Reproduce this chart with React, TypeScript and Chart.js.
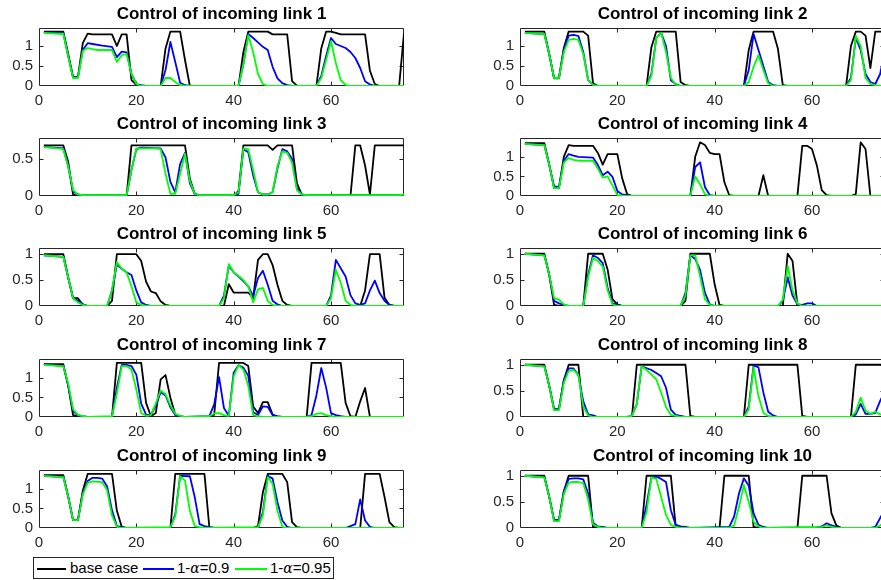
import React, { useEffect, useRef } from "react";
import { Chart, registerables } from "chart.js";

Chart.register(...registerables);

type Pt = [number, number];

// ---------------- data ----------------
const panelTitles = [
  "Control of incoming link 1",
  "Control of incoming link 2",
  "Control of incoming link 3",
  "Control of incoming link 4",
  "Control of incoming link 5",
  "Control of incoming link 6",
  "Control of incoming link 7",
  "Control of incoming link 8",
  "Control of incoming link 9",
  "Control of incoming link 10",
];
const seriesLabels = ["base case", "1-α=0.9", "1-α=0.95"];
const xTickValues = [0, 20, 40, 60];
const xLimits = [0, 75];
const yMaxes = [1.45, 1.45, 0.78, 1.48, 1.12, 1.11, 1.48, 1.11, 1.48, 1.11];
const yTicksFull = [0, 0.5, 1];
const yTicksHalf = [0, 0.5];

const link1Base: Pt[] = [[1,1.36],[5,1.36],[6,0.8],[7,0.22],[8,0.22],[9,1.07],[10,1.31],[11,1.29],[15,1.29],[16,1.0],[17,1.29],[18,1.29],[19,0.15],[20,0.02],[21,0],[25,0],[26,0.94],[27,1.36],[29,1.36],[30,0.65],[31,0],[41,0],[42,0.85],[43,1.36],[47,1.36],[48,1.29],[51,1.29],[52,0.12],[53,0.01],[54,0],[57,0],[58,0.94],[59,1.36],[60,1.36],[61,1.33],[62,1.29],[67,1.29],[68,0.38],[69,0.05],[70,0],[74,0],[75,1.32]];
const link1Conf90: Pt[] = [[1,1.34],[5,1.32],[6,0.75],[7,0.22],[8,0.22],[9,0.9],[10,1.07],[11,1.05],[13,1.01],[15,0.98],[16,0.72],[17,0.86],[18,0.84],[19,0.3],[20,0.05],[21,0.02],[22,0],[25,0],[26,0.4],[27,1.1],[28,0.6],[29,0.08],[30,0.02],[31,0],[41,0],[42,0.55],[43,1.3],[44,1.2],[45,1.09],[46,0.98],[47,0.9],[48,0.48],[49,0.19],[50,0.07],[51,0.02],[52,0],[57,0],[58,0.25],[59,0.75],[60,1.2],[61,1.05],[62,1.0],[63,0.95],[64,0.85],[65,0.7],[66,0.45],[67,0.12],[68,0.04],[69,0],[75,0]];
const link1Conf95: Pt[] = [[1,1.33],[5,1.3],[6,0.75],[7,0.2],[8,0.2],[9,0.88],[10,0.95],[11,0.92],[12,0.9],[15,0.9],[16,0.6],[17,0.77],[18,0.8],[19,0.3],[20,0.05],[21,0],[25,0],[26,0.2],[27,0.2],[28,0.1],[29,0.02],[30,0],[41,0],[42,0.55],[43,1.27],[44,0.85],[45,0.3],[46,0.05],[47,0],[57,0],[58,0.2],[59,0.65],[60,1.12],[61,0.57],[62,0.15],[63,0.03],[64,0],[75,0]];

const link2Base: Pt[] = [[1,1.36],[5,1.36],[6,0.8],[7,0.19],[8,0.19],[9,0.95],[10,1.36],[13,1.36],[14,1.26],[15,0.07],[16,0],[26,0],[27,0.97],[28,1.36],[32,1.36],[33,0.1],[34,0.02],[35,0],[46,0],[47,0.9],[48,1.36],[52,1.36],[53,0.93],[54,0.02],[55,0],[67,0],[68,1.0],[69,1.36],[70,1.36],[71,1.26],[72,0.45],[73,1.36],[75,1.36]];
const link2Conf90: Pt[] = [[1,1.33],[5,1.3],[6,0.8],[7,0.2],[8,0.2],[9,0.9],[10,1.26],[11,1.28],[12,1.25],[13,0.85],[14,0.15],[15,0.03],[16,0],[26,0],[27,0.3],[28,1.2],[29,1.33],[30,1.0],[31,0.14],[32,0.05],[33,0],[46,0],[47,0.4],[48,1.3],[49,0.9],[50,0.5],[51,0.1],[52,0.02],[53,0],[67,0],[68,0.2],[69,1.2],[70,0.9],[71,0.3],[72,0.1],[73,0.05],[74,0.3],[75,0.9]];
const link2Conf95: Pt[] = [[1,1.33],[5,1.3],[6,0.8],[7,0.2],[8,0.2],[9,0.85],[10,1.15],[11,1.18],[12,1.15],[13,0.8],[14,0.15],[15,0.03],[16,0],[26,0],[27,0.25],[28,1.2],[29,1.33],[30,0.85],[31,0.2],[32,0.03],[33,0],[46,0],[47,0.1],[48,0.48],[49,0.77],[50,0.4],[51,0.07],[52,0],[67,0],[68,0.15],[69,1.25],[70,1.0],[71,0.2],[72,0.05],[73,0.02],[74,0],[75,0]];

const link3Base: Pt[] = [[1,0.68],[5,0.68],[6,0.46],[7,0.02],[8,0],[18,0],[19,0.68],[30,0.68],[31,0.23],[32,0.03],[33,0],[40,0],[41,0.07],[42,0.68],[47,0.68],[48,0.62],[49,0.68],[52,0.68],[53,0.17],[54,0.02],[55,0],[64,0],[65,0.68],[66,0.68],[67,0.41],[68,0.02],[69,0.68],[75,0.68]];
const link3Conf90: Pt[] = [[1,0.66],[5,0.64],[6,0.4],[7,0.06],[8,0.02],[9,0.01],[18,0.01],[19,0.35],[20,0.63],[21,0.65],[25,0.64],[26,0.52],[27,0.19],[28,0.05],[29,0.43],[30,0.58],[31,0.17],[32,0.03],[33,0.01],[40,0.01],[41,0.03],[42,0.63],[43,0.59],[44,0.28],[45,0.05],[46,0.02],[47,0.02],[48,0.05],[49,0.37],[50,0.63],[51,0.6],[52,0.5],[53,0.1],[54,0.02],[55,0.01],[75,0.01]];
const link3Conf95: Pt[] = [[1,0.66],[5,0.63],[6,0.4],[7,0.08],[8,0.02],[9,0.01],[18,0.01],[19,0.35],[20,0.64],[24,0.64],[25,0.63],[26,0.3],[27,0.03],[28,0.03],[29,0.3],[30,0.57],[31,0.2],[32,0.03],[33,0.01],[40,0.01],[41,0.05],[42,0.64],[43,0.63],[44,0.35],[45,0.05],[46,0.02],[47,0.02],[48,0.05],[49,0.4],[50,0.6],[51,0.58],[52,0.45],[53,0.08],[54,0.02],[55,0.01],[74,0.01],[75,0.02]];

const link4Base: Pt[] = [[1,1.35],[5,1.35],[6,0.8],[7,0.2],[8,0.2],[9,1.0],[10,1.3],[11,1.28],[15,1.28],[16,1.1],[17,0.8],[18,1.07],[20,1.07],[21,0.45],[22,0.05],[23,0],[35,0],[36,1.0],[37,1.37],[38,1.3],[39,1.1],[40,1.07],[41,1.07],[42,0.35],[43,0.02],[44,0],[49,0],[50,0.53],[51,0],[57,0],[58,1.28],[59,1.28],[60,1.2],[61,0.78],[62,0.15],[63,0.02],[64,0],[68,0],[69,0.05],[70,1.37],[71,1.2],[72,0],[75,0]];
const link4Conf90: Pt[] = [[1,1.33],[5,1.3],[6,0.8],[7,0.25],[8,0.22],[9,0.9],[10,1.07],[11,1.03],[12,1.0],[15,0.98],[16,0.79],[17,0.53],[18,0.62],[19,0.49],[20,0.13],[21,0.04],[22,0.02],[23,0],[35,0],[36,0.74],[37,0.86],[38,0.23],[39,0.02],[40,0],[75,0]];
const link4Conf95: Pt[] = [[1,1.33],[5,1.3],[6,0.8],[7,0.2],[8,0.2],[9,0.85],[10,0.97],[11,0.92],[12,0.9],[15,0.9],[16,0.7],[17,0.47],[18,0.5],[19,0.27],[20,0.03],[21,0.01],[22,0],[35,0],[36,0.5],[37,0.3],[38,0.05],[39,0],[75,0]];

const link5Base: Pt[] = [[1,1.0],[5,1.0],[6,0.55],[7,0.15],[8,0.15],[9,0.03],[10,0],[14,0],[15,0.1],[16,1.0],[20,1.0],[21,0.87],[22,0.47],[23,0.28],[24,0.25],[25,0.09],[26,0.02],[27,0],[38,0],[39,0.42],[40,0.26],[43,0.26],[44,0.15],[45,0.89],[46,1.0],[47,1.0],[48,0.79],[49,0.41],[50,0.1],[51,0.02],[52,0],[66,0],[67,0.3],[68,1.0],[70,1.0],[71,0.16],[72,0.02],[73,0],[75,0]];
const link5Conf90: Pt[] = [[1,0.98],[5,0.95],[6,0.55],[7,0.15],[8,0.1],[9,0.03],[10,0],[14,0],[15,0.3],[16,0.8],[17,0.72],[18,0.65],[19,0.6],[20,0.3],[21,0.07],[22,0.02],[23,0],[37,0],[38,0.2],[39,0.78],[40,0.65],[41,0.57],[42,0.48],[43,0.38],[44,0.19],[45,0.54],[46,0.68],[47,0.41],[48,0.1],[49,0.03],[50,0],[59,0],[60,0.2],[61,0.89],[62,0.73],[63,0.57],[64,0.21],[65,0.05],[66,0.02],[67,0.05],[68,0.3],[69,0.49],[70,0.25],[71,0.1],[72,0.02],[73,0],[75,0]];
const link5Conf95: Pt[] = [[1,0.98],[5,0.95],[6,0.55],[7,0.15],[8,0.07],[9,0.02],[10,0],[14,0],[15,0.3],[16,0.85],[17,0.72],[18,0.65],[19,0.38],[20,0.07],[21,0.02],[22,0],[37,0],[38,0.15],[39,0.81],[40,0.65],[41,0.58],[42,0.5],[43,0.38],[44,0.07],[45,0.32],[46,0.35],[47,0.1],[48,0.02],[49,0],[59,0],[60,0.15],[61,0.7],[62,0.45],[63,0.1],[64,0.02],[65,0],[75,0]];

const link6Base: Pt[] = [[1,1.0],[5,1.0],[6,0.6],[7,0.02],[8,0],[13,0],[14,1.0],[17,1.0],[18,0.7],[19,0.13],[20,0.03],[21,0],[33,0],[34,0.1],[35,1.0],[39,1.0],[40,0.41],[41,0.02],[42,0],[54,0],[55,1.0],[56,0.86],[57,0.02],[58,0],[75,0]];
const link6Conf90: Pt[] = [[1,1.0],[5,0.97],[6,0.6],[7,0.1],[8,0.05],[9,0.02],[10,0],[13,0],[14,0.6],[15,0.97],[16,0.92],[17,0.82],[18,0.35],[19,0.05],[20,0.02],[21,0],[33,0],[34,0.25],[35,0.97],[36,0.9],[37,0.69],[38,0.25],[39,0.03],[40,0],[53,0],[54,0.1],[55,0.55],[56,0.2],[57,0.03],[58,0.02],[59,0.05],[60,0.05],[61,0],[75,0]];
const link6Conf95: Pt[] = [[1,1.0],[5,0.97],[6,0.6],[7,0.15],[8,0.12],[9,0.03],[10,0],[13,0],[14,0.55],[15,0.92],[16,0.86],[17,0.76],[18,0.3],[19,0.03],[20,0],[33,0],[34,0.2],[35,0.97],[36,0.97],[37,0.57],[38,0.13],[39,0.02],[40,0],[53,0],[54,0.12],[55,0.77],[56,0.3],[57,0.05],[58,0],[75,0]];

const link7Base: Pt[] = [[1,1.35],[5,1.35],[6,0.8],[7,0.05],[8,0.02],[9,0],[15,0],[16,1.38],[21,1.38],[22,0.36],[23,0.02],[24,0.1],[25,0.96],[26,1.07],[27,0.49],[28,0.06],[29,0],[35,0],[36,0.06],[37,1.38],[42,1.38],[43,1.3],[44,0.27],[45,0.1],[46,0.38],[47,0.38],[48,0.06],[49,0],[55,0],[56,1.38],[62,1.38],[63,0.36],[64,0.02],[65,0],[66,0.4],[67,0.74],[68,0],[75,0]];
const link7Conf90: Pt[] = [[1,1.35],[5,1.3],[6,0.8],[7,0.15],[8,0.05],[9,0.02],[10,0],[15,0],[16,0.75],[17,1.33],[18,1.33],[19,1.3],[20,1.08],[21,0.34],[22,0.06],[23,0.05],[24,0.3],[25,0.63],[26,0.55],[27,0.25],[28,0.05],[29,0.02],[30,0],[35,0.02],[36,0.32],[37,1.02],[38,0.23],[39,0.03],[40,1.13],[41,1.32],[42,1.26],[43,1.05],[44,0.12],[45,0.05],[46,0.27],[47,0.26],[48,0.05],[49,0.02],[50,0],[55,0],[56,0.05],[57,0.55],[58,1.25],[59,0.75],[60,0.1],[61,0.05],[62,0.02],[63,0],[75,0]];
const link7Conf95: Pt[] = [[1,1.33],[5,1.3],[6,0.85],[7,0.2],[8,0.05],[9,0.02],[10,0],[15,0.02],[16,0.6],[17,1.3],[18,1.3],[19,1.21],[20,0.7],[21,0.1],[22,0.03],[23,0.05],[24,0.35],[25,0.68],[26,0.58],[27,0.3],[28,0.08],[29,0.03],[30,0],[35,0.02],[36,0.09],[37,0.1],[38,0.05],[39,0.03],[40,1.04],[41,1.32],[42,1.21],[43,0.8],[44,0.05],[45,0.02],[46,0],[55,0],[56,0.02],[57,0.08],[58,0.1],[59,0.05],[60,0.02],[61,0],[75,0]];

const link8Base: Pt[] = [[1,1.0],[5,1.0],[6,0.6],[7,0.15],[8,0.15],[9,0.7],[10,1.0],[12,1.0],[13,0],[23,0],[24,1.0],[34,1.0],[35,0.02],[36,0],[46,0],[47,1.0],[57,1.0],[58,0.02],[59,0],[68,0],[69,1.0],[75,1.0]];
const link8Conf90: Pt[] = [[1,1.0],[5,0.97],[6,0.6],[7,0.15],[8,0.15],[9,0.7],[10,0.93],[11,0.93],[12,0.8],[13,0.3],[14,0.05],[15,0.03],[16,0],[22,0],[23,0.02],[24,0.25],[25,0.97],[27,0.9],[28,0.84],[29,0.78],[30,0.56],[31,0.14],[32,0.04],[33,0.02],[34,0],[46,0],[47,0.2],[48,0.99],[49,0.95],[50,0.47],[51,0.1],[52,0.03],[53,0],[68,0],[69,0.05],[70,0.25],[71,0.06],[72,0.06],[73,0.08],[74,0.31],[75,0.5]];
const link8Conf95: Pt[] = [[1,1.0],[5,0.97],[6,0.6],[7,0.13],[8,0.13],[9,0.65],[10,0.88],[11,0.9],[12,0.8],[13,0.2],[14,0.03],[15,0],[22,0],[23,0.02],[24,0.25],[25,0.97],[26,0.9],[27,0.81],[28,0.72],[29,0.47],[30,0.19],[31,0.04],[32,0.02],[33,0],[46,0],[47,0.15],[48,0.95],[49,0.4],[50,0.08],[51,0.02],[52,0],[68,0],[69,0.1],[70,0.37],[71,0.12],[72,0.06],[73,0.1],[74,0.05],[75,0.05]];

const link9Base: Pt[] = [[1,1.35],[5,1.35],[6,0.8],[7,0.2],[8,0.2],[9,0.95],[10,1.38],[15,1.38],[16,0.44],[17,0.03],[18,0],[27,0],[28,1.38],[34,1.38],[35,0.02],[36,0],[44,0],[45,0.05],[46,0.91],[47,1.38],[50,1.38],[51,1.17],[52,0.15],[53,0.02],[54,0],[66,0],[67,1.38],[70,1.38],[71,0.79],[72,0.15],[73,0.02],[74,0],[75,0]];
const link9Conf90: Pt[] = [[1,1.33],[5,1.3],[6,0.8],[7,0.2],[8,0.2],[9,0.9],[10,1.2],[11,1.28],[12,1.28],[13,1.26],[14,1.06],[15,0.45],[16,0.05],[17,0.02],[18,0],[27,0],[28,0.35],[29,1.33],[31,1.32],[32,0.79],[33,0.1],[34,0.05],[35,0.02],[36,0],[45,0],[46,0.4],[47,1.33],[48,1.26],[49,0.66],[50,0.19],[51,0.03],[52,0],[63,0],[64,0.05],[65,0.1],[66,0.73],[67,0.19],[68,0.03],[69,0],[75,0]];
const link9Conf95: Pt[] = [[1,1.33],[5,1.3],[6,0.8],[7,0.2],[8,0.2],[9,0.85],[10,1.15],[11,1.19],[12,1.18],[13,1.17],[14,0.96],[15,0.32],[16,0.03],[17,0],[27,0.02],[28,0.3],[29,1.32],[30,1.21],[31,0.44],[32,0.05],[33,0.02],[34,0],[45,0.02],[46,0.32],[47,1.3],[48,1.13],[49,0.44],[50,0.03],[51,0],[75,0]];

const link10Base: Pt[] = [[1,1.0],[5,1.0],[6,0.6],[7,0.15],[8,0.15],[9,0.7],[10,1.0],[14,1.0],[15,0.02],[16,0],[25,0],[26,1.0],[31,1.0],[32,0.02],[33,0],[41,0],[42,1.0],[47,1.0],[48,0.02],[49,0],[57,0],[58,1.0],[63,1.0],[64,0.28],[65,0.05],[66,0],[75,0]];
const link10Conf90: Pt[] = [[1,1.0],[5,0.97],[6,0.6],[7,0.15],[8,0.15],[9,0.7],[10,0.94],[11,0.95],[12,0.95],[13,0.93],[14,0.66],[15,0.1],[16,0.03],[17,0.02],[18,0],[25,0],[26,0.44],[27,0.97],[28,0.98],[29,0.94],[30,0.88],[31,0.34],[32,0.06],[33,0.03],[34,0.02],[35,0],[43,0.02],[44,0.22],[45,0.66],[46,0.95],[47,0.81],[48,0.28],[49,0.06],[50,0.02],[51,0],[61,0.01],[62,0.03],[63,0.09],[64,0.05],[65,0.02],[66,0],[72,0],[73,0.02],[74,0.19],[75,0.35]];
const link10Conf95: Pt[] = [[1,1.0],[5,0.97],[6,0.6],[7,0.13],[8,0.13],[9,0.65],[10,0.87],[11,0.88],[12,0.88],[13,0.86],[14,0.55],[15,0.07],[16,0.02],[17,0],[25,0],[26,0.3],[27,0.97],[28,0.94],[29,0.6],[30,0.25],[31,0.06],[32,0.02],[33,0],[43,0],[44,0.05],[45,0.4],[46,0.82],[47,0.5],[48,0.12],[49,0.03],[50,0],[62,0.02],[63,0.05],[64,0.02],[65,0],[73,0],[74,0.05],[75,0.1]];

const panelSeries: Pt[][][] = [
  [link1Base, link1Conf90, link1Conf95],
  [link2Base, link2Conf90, link2Conf95],
  [link3Base, link3Conf90, link3Conf95],
  [link4Base, link4Conf90, link4Conf95],
  [link5Base, link5Conf90, link5Conf95],
  [link6Base, link6Conf90, link6Conf95],
  [link7Base, link7Conf90, link7Conf95],
  [link8Base, link8Conf90, link8Conf95],
  [link9Base, link9Conf90, link9Conf95],
  [link10Base, link10Conf90, link10Conf95],
];
const panelYTicks = [yTicksFull, yTicksFull, yTicksHalf, yTicksFull, yTicksFull, yTicksFull, yTicksFull, yTicksFull, yTicksFull, yTicksFull];

// ---------------- styling / layout ----------------
const FONT = "'Liberation Sans', Arial, Helvetica, sans-serif";
const seriesColors = ["#000000", "#0000ff", "#00ff00"];
const AXIS_COLOR = "#262626";
const colLefts = [39, 520];
const rowTops = [28, 138, 248, 359, 470];
const AX_W = 365;
const AX_H = 58;
const Y_AXIS_W = 50;
const TITLE_H = 28;
const X_AXIS_H = 26;
const PAD_R = 20;
const CANVAS_W = Y_AXIS_W + AX_W + PAD_R;
const CANVAS_H = TITLE_H + AX_H + X_AXIS_H;

const framePlugin = {
  id: "matlabFrame",
  beforeDatasetsDraw(chart: any) {
    const { ctx, chartArea: a, scales } = chart;
    const L = Math.round(a.left) + 0.5;
    const R = Math.round(a.right) - 0.5;
    const T = Math.round(a.top) + 0.5;
    const B = Math.round(a.bottom) - 0.5;
    const tl = 4;
    ctx.save();
    ctx.strokeStyle = AXIS_COLOR;
    ctx.lineWidth = 1;
    ctx.beginPath();
    ctx.rect(L, T, R - L, B - T);
    for (const v of xTickValues) {
      const px = Math.round(scales.x.getPixelForValue(v)) + 0.5;
      if (px <= L + 1 || px >= R - 1) continue;
      ctx.moveTo(px, B);
      ctx.lineTo(px, B - tl);
      ctx.moveTo(px, T);
      ctx.lineTo(px, T + tl);
    }
    for (const t of scales.y.ticks) {
      const py = Math.round(scales.y.getPixelForValue(t.value)) + 0.5;
      if (py >= B - 1 || py <= T + 1) continue;
      ctx.moveTo(L, py);
      ctx.lineTo(L + tl, py);
      ctx.moveTo(R, py);
      ctx.lineTo(R - tl, py);
    }
    ctx.stroke();
    ctx.restore();
  },
};

function Panel({ idx, left, top }: { idx: number; left: number; top: number }) {
  const ref = useRef<HTMLCanvasElement>(null);
  useEffect(() => {
    const series = panelSeries[idx];
    const yTicks = panelYTicks[idx];
    const chart = new Chart(ref.current as HTMLCanvasElement, {
      type: "line",
      data: {
        datasets: series.map((s, k) => ({
          label: seriesLabels[k],
          data: s.map(([x, y]) => ({ x, y })),
          borderColor: seriesColors[k],
          backgroundColor: seriesColors[k],
          borderWidth: 1.8,
          pointRadius: 0,
          tension: 0,
          fill: false,
          borderJoinStyle: "round",
          order: 3 - k,
        })),
      },
      options: {
        responsive: false,
        animation: false,
        devicePixelRatio: 1,
        events: [],
        layout: { padding: { left: 0, right: PAD_R, top: 0, bottom: 0 } },
        plugins: {
          legend: { display: false },
          tooltip: { enabled: false },
          title: {
            display: true,
            text: panelTitles[idx],
            fullSize: false,
            color: "#000",
            font: { family: FONT, size: 17, weight: "bold", lineHeight: 1.2 },
            padding: { top: 4, bottom: 3.6 },
          },
        },
        scales: {
          x: {
            type: "linear",
            min: xLimits[0],
            max: xLimits[1],
            grid: { display: false, drawTicks: false },
            border: { display: false },
            ticks: {
              font: { family: FONT, size: 15 },
              color: AXIS_COLOR,
              padding: 6,
              maxRotation: 0,
              autoSkip: false,
              callback: (v: any) => String(v),
            },
            afterBuildTicks: (s: any) => {
              s.ticks = xTickValues.map((v) => ({ value: v }));
            },
            afterFit: (s: any) => {
              s.height = X_AXIS_H;
            },
          },
          y: {
            type: "linear",
            min: 0,
            max: yMaxes[idx],
            grid: { display: false, drawTicks: false },
            border: { display: false },
            ticks: {
              font: { family: FONT, size: 15 },
              color: AXIS_COLOR,
              padding: 6,
              autoSkip: false,
              callback: (v: any) => String(v),
            },
            afterBuildTicks: (s: any) => {
              s.ticks = yTicks.map((v) => ({ value: v }));
            },
            afterFit: (s: any) => {
              s.width = Y_AXIS_W;
            },
          },
        },
      } as any,
      plugins: [framePlugin],
    });
    return () => chart.destroy();
  }, [idx]);
  return (
    <canvas
      ref={ref}
      width={CANVAS_W}
      height={CANVAS_H}
      style={{ position: "absolute", left, top, width: CANVAS_W, height: CANVAS_H }}
    />
  );
}

function LegendLabel({ text }: { text: string }) {
  const parts = text.split("α");
  return (
    <>
      {parts.map((p, i) => (
        <React.Fragment key={i}>
          {i > 0 && <i style={{ fontFamily: "'DejaVu Serif', serif", fontSize: 14 }}>α</i>}
          {p}
        </React.Fragment>
      ))}
    </>
  );
}

function Legend() {
  const items = [
    { lineLeft: 3, lineW: 29, textLeft: 36 },
    { lineLeft: 109, lineW: 31, textLeft: 143 },
    { lineLeft: 201, lineW: 32, textLeft: 236 },
  ];
  return (
    <div
      style={{
        position: "absolute",
        left: 33,
        top: 557,
        width: 301,
        height: 22,
        boxSizing: "border-box",
        border: `1px solid ${AXIS_COLOR}`,
        background: "#fff",
        fontFamily: FONT,
        fontSize: 15,
        color: "#000",
      }}
    >
      {items.map((it, k) => (
        <React.Fragment key={k}>
          <div
            style={{
              position: "absolute",
              left: it.lineLeft,
              top: 10,
              width: it.lineW,
              height: 2,
              background: seriesColors[k],
            }}
          />
          <div
            style={{
              position: "absolute",
              left: it.textLeft,
              top: 0,
              height: 20,
              lineHeight: "20px",
              whiteSpace: "nowrap",
            }}
          >
            <LegendLabel text={seriesLabels[k]} />
          </div>
        </React.Fragment>
      ))}
    </div>
  );
}

export default function App() {
  return (
    <div
      style={{
        position: "fixed",
        left: 0,
        top: 0,
        width: 881,
        height: 580,
        overflow: "hidden",
        background: "#fff",
      }}
    >
      {panelTitles.map((_, i) => {
        const col = i % 2;
        const row = Math.floor(i / 2);
        return (
          <Panel
            key={i}
            idx={i}
            left={colLefts[col] - Y_AXIS_W}
            top={rowTops[row] - TITLE_H}
          />
        );
      })}
      <Legend />
    </div>
  );
}
